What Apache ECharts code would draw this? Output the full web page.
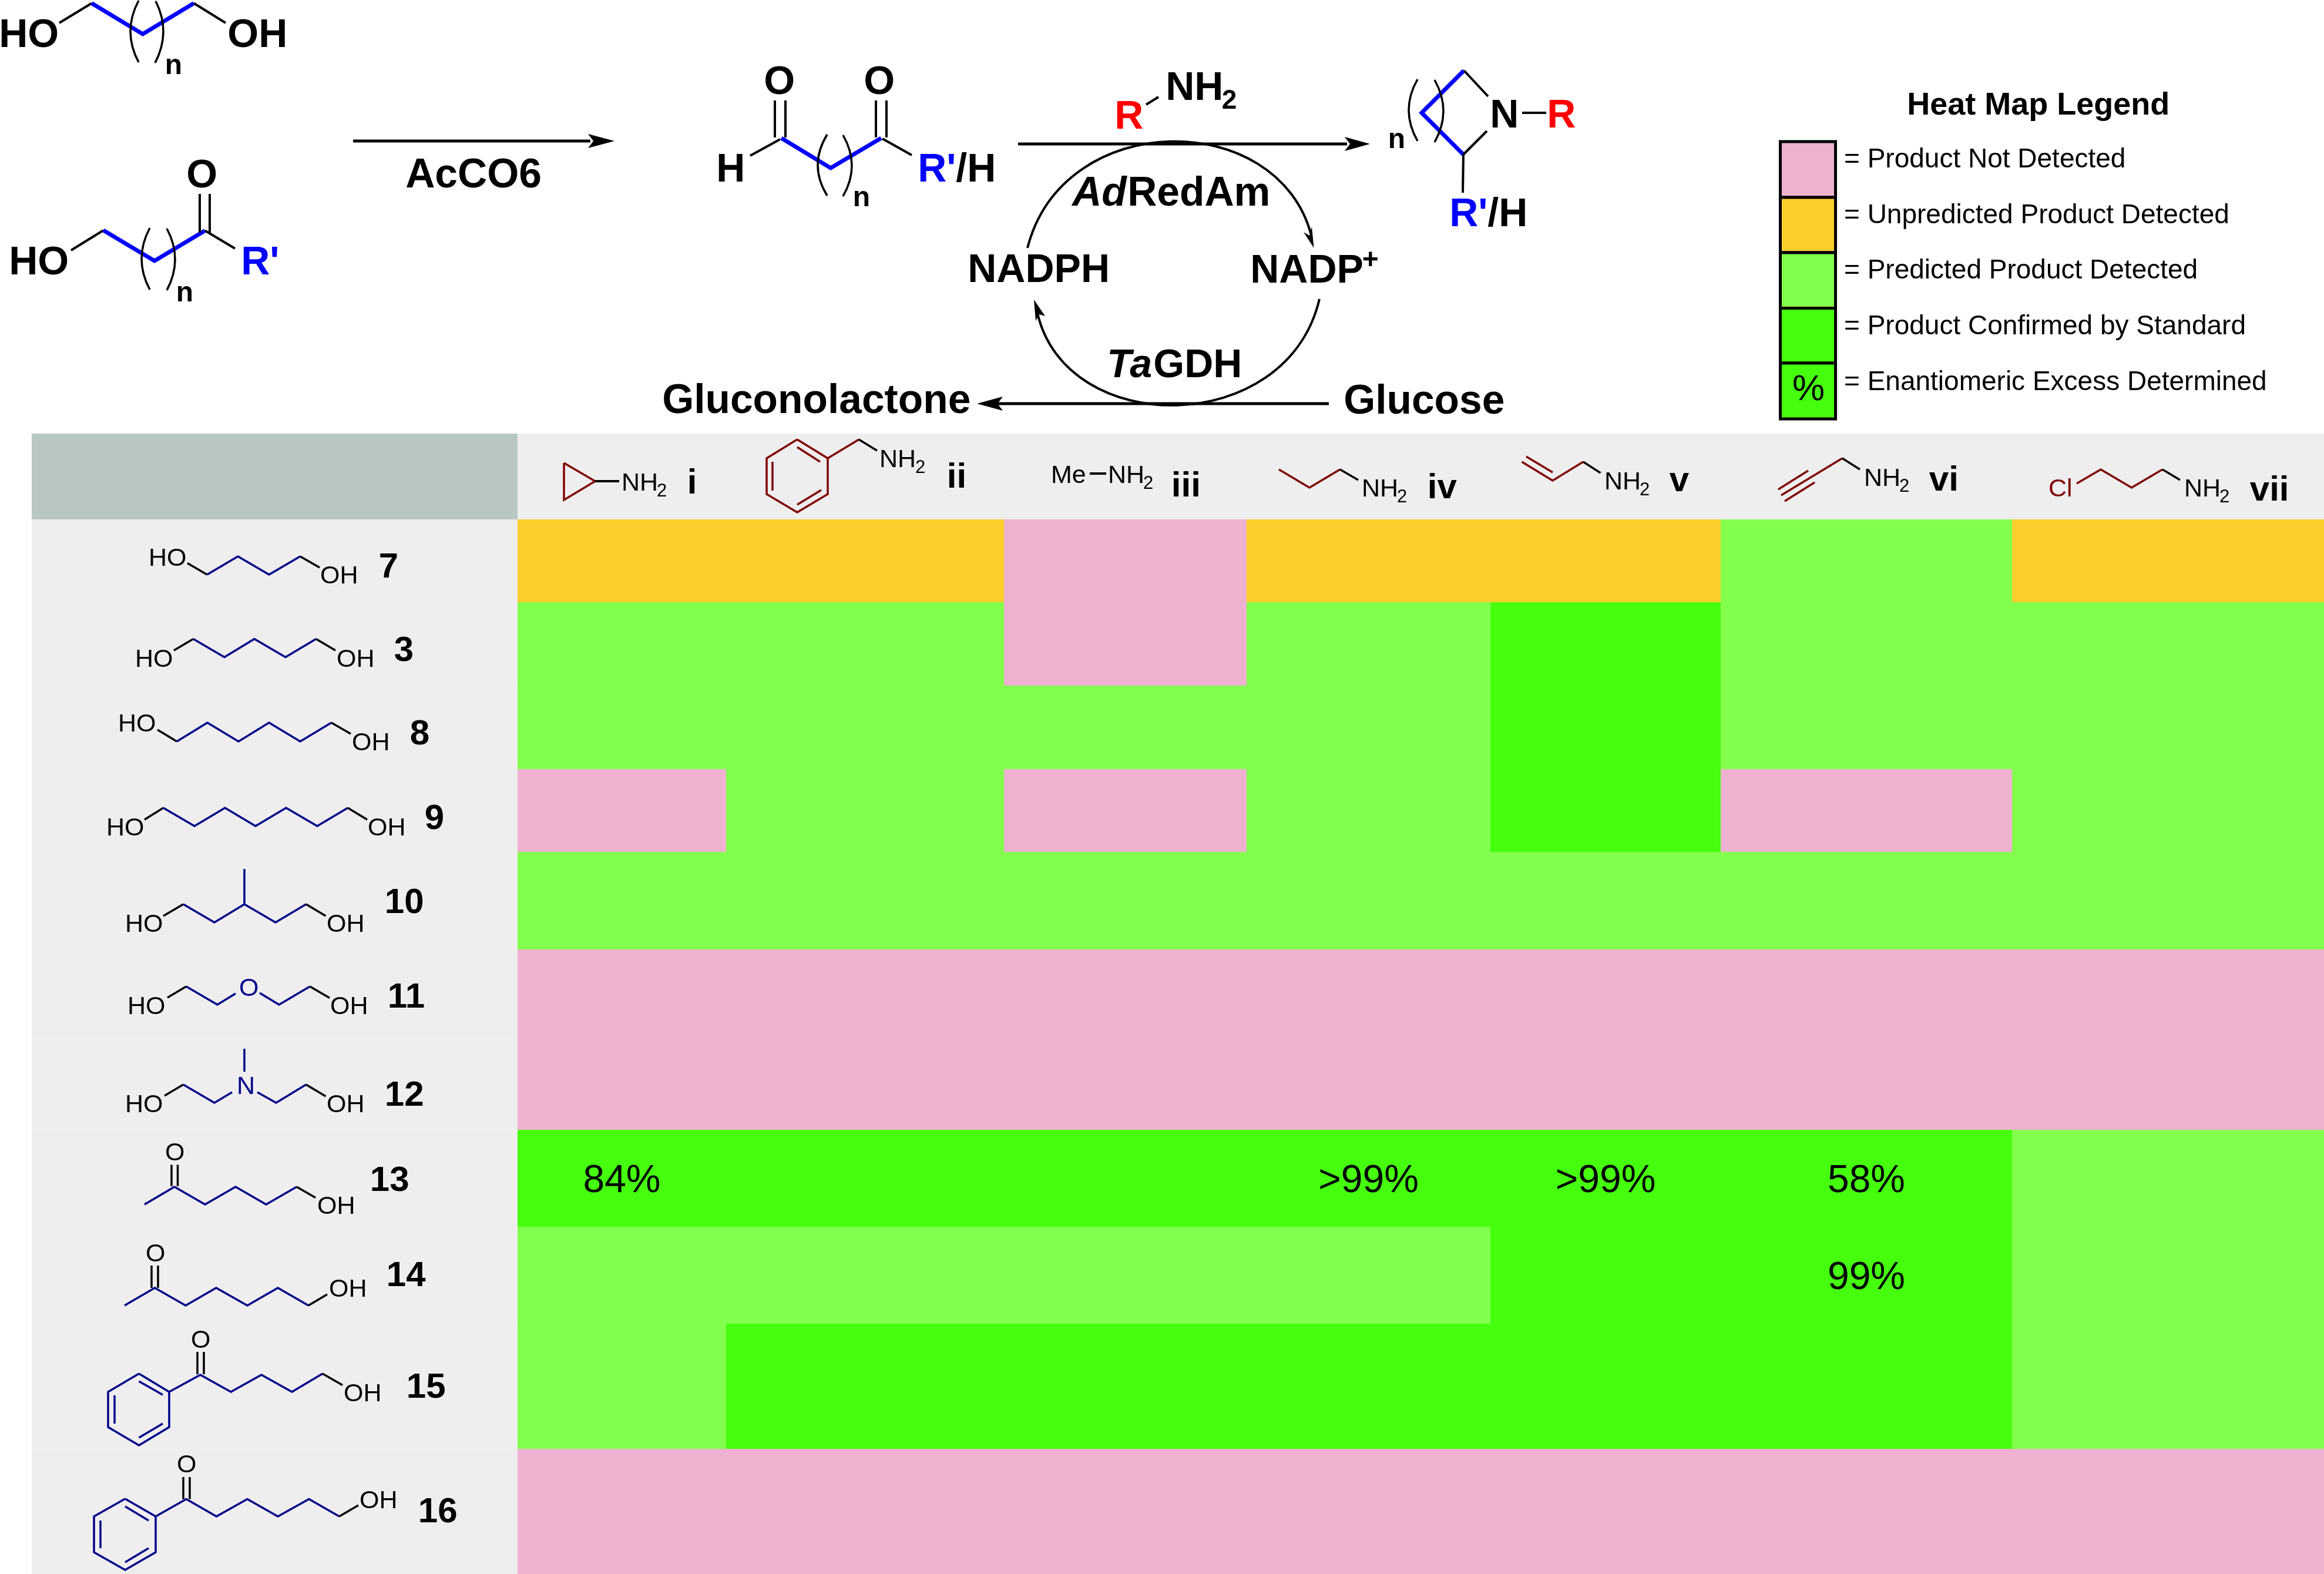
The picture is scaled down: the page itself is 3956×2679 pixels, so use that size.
<!DOCTYPE html>
<html>
<head>
<meta charset="utf-8">
<style>html,body{margin:0;padding:0;background:#fff}#c{width:3956px;height:2679px}</style>
<script src="https://cdn.jsdelivr.net/npm/echarts@6/dist/echarts.min.js"></script>
</head>
<body>
<div id="c"></div>
<script>
// ---------- DATA ----------
const amines = ['i', 'ii', 'iii', 'iv', 'v', 'vi', 'vii'];
const compounds = ['7', '3', '8', '9', '10', '11', '12', '13', '14', '15', '16'];
const statusNames = ['Product Not Detected', 'Unpredicted Product Detected', 'Predicted Product Detected', 'Product Confirmed by Standard'];
const eeLegendName = 'Enantiomeric Excess Determined';
// status index per amine i..vii
const row7  = [1, 1, 0, 1, 1, 2, 1];
const row3  = [2, 2, 0, 2, 3, 2, 2];
const row8  = [2, 2, 2, 2, 3, 2, 2];
const row9  = [0, 2, 0, 2, 3, 0, 2];
const row10 = [2, 2, 2, 2, 2, 2, 2];
const row11 = [0, 0, 0, 0, 0, 0, 0];
const row12 = [0, 0, 0, 0, 0, 0, 0];
const row13 = [3, 3, 3, 3, 3, 3, 2];
const row14 = [2, 2, 2, 2, 3, 3, 2];
const row15 = [2, 3, 3, 3, 3, 3, 2];
const row16 = [0, 0, 0, 0, 0, 0, 0];
const statusRows = [row7, row3, row8, row9, row10, row11, row12, row13, row14, row15, row16];
const eeRow13 = ['84%', '', '', '>99%', '>99%', '58%', ''];
const eeRow14 = ['', '', '', '', '', '99%', ''];

// ---------- LAYOUT ----------
const colEdges = [881, 1236, 1709, 2122, 2537, 2929, 3425, 3956];
const rowEdges = [884, 1025, 1167, 1309, 1450, 1616, 1769, 1923, 2088, 2253, 2466, 2679];
const statusColors = ['#eeb2d0', '#fecf2c', '#83ff4d', '#45ff0f'];
const eeByRow = { 7: eeRow13, 8: eeRow14 };
const FONT = '"Liberation Sans", Arial, sans-serif';
const BLUE = '#0000ff', RED = '#ff0000', NAVY = '#00008b', DARK = '#800000', BLK = '#000000';

const cells = [];
statusRows.forEach((row, r) => row.forEach((s, c) => {
  const ee = eeByRow[r] ? eeByRow[r][c] : '';
  cells.push([colEdges[c], rowEdges[r], colEdges[c + 1], rowEdges[r + 1], s, ee, amines[c], compounds[r]]);
}));

// ---------- drawing helpers for the annotation artwork ----------
const g = [];
const line = (pts, stroke, w) => g.push({ type: 'polyline', silent: true, z: 10, shape: { points: pts }, style: { stroke: stroke || BLK, lineWidth: w || 3.5, fill: null, lineJoin: 'miter', lineCap: 'butt' } });
const poly = (pts, fill) => g.push({ type: 'polygon', silent: true, z: 10, shape: { points: pts }, style: { fill: fill || BLK } });
const rect = (x, y, w, h, fill, stroke, lw) => g.push({ type: 'rect', silent: true, z: 1, shape: { x, y, width: w, height: h }, style: { fill, stroke: stroke || null, lineWidth: lw || 0 } });
const paren = (x1, y1, x2, y2, bx, w) => g.push({ type: 'bezierCurve', silent: true, z: 10, shape: { x1, y1, x2, y2, cpx1: 2 * bx - (x1 + x2) / 2, cpy1: (y1 + y2) / 2 }, style: { stroke: BLK, lineWidth: w || 3.5, fill: null } });
const curve = (x1, y1, cpx1, cpy1, cpx2, cpy2, x2, y2) => g.push({ type: 'bezierCurve', silent: true, z: 10, shape: { x1, y1, cpx1, cpy1, cpx2, cpy2, x2, y2 }, style: { stroke: BLK, lineWidth: 4, fill: null } });
const text = (s, x, cy, size, opt) => {
  opt = opt || {};
  g.push({ type: 'text', silent: true, z: 11, x: x - (opt.noBearing ? 0 : size * 0.07), y: cy + size * 0.075, style: {
    text: s, fill: opt.color || BLK, align: 'left', verticalAlign: 'middle',
    font: (opt.italic ? 'italic ' : '') + (opt.bold ? 'bold ' : '') + size + 'px ' + FONT } });
};
const bold = (s, x, cy, size, color, italic) => text(s, size === 60 ? x + 4 : x, cy, size === 66 ? 68 : size === 68 ? 69.5 : size, { bold: true, color, italic });
const atom = (s, x, cy, color) => text(s, x, cy, 43, { color });
const nh2 = (x, cy, subX, subCy) => { atom('NH', x, cy); text('2', subX, subCy, 31, { noBearing: true }); };
const hexagon = (xl, xm, xr, y0, y1, y2, y3) => line([[xm, y0], [xr, y1], [xr, y2], [xm, y3], [xl, y2], [xl, y1], [xm, y0]], NAVY, 3.5);

// ---------- table backgrounds ----------
rect(54, 738, 827, 146, '#b9c7c4');
rect(881, 738, 3075, 146, '#eeeeee');
rect(54, 884, 827, 1795, '#eeeeee');
rowEdges.slice(1, -1).forEach(y => g.push({ type: 'line', silent: true, z: 2, shape: { x1: 54, y1: y, x2: 881, y2: y }, style: { stroke: '#f2f2f2', lineWidth: 1 } }));

// ---------- reaction scheme: starting materials ----------
bold('HO', 3, 56, 66);
line([[101, 39], [156, 5.5]], BLK, 4); line([[156, 5.5], [243, 58], [330, 5.5]], BLUE, 7); line([[330, 5.5], [384, 39]], BLK, 4);
paren(236, 1, 236, 106, 222); paren(265, 2, 264, 107, 278);
bold('n', 284, 109, 48);
bold('OH', 392, 56, 66);

bold('HO', 20, 443, 66);
line([[121, 426], [176, 392]], BLK, 4); line([[176, 392], [263, 444], [349, 392.5]], BLUE, 7); line([[349, 392.5], [400, 423]], BLK, 4);
line([[340, 330], [340, 396]], BLK, 4); line([[357, 330], [357, 396]], BLK, 4);
bold('O', 322, 295, 66);
paren(255, 388, 255, 493, 241); paren(284, 389, 284, 494, 298);
bold('n', 303, 496, 48);
bold("R'", 415, 443, 66, BLUE);

line([[601, 240], [1005, 240]], BLK, 5);
poly([[1001, 228], [1046, 240], [1001, 252], [1010, 240]]);
bold('AcCO6', 695, 295, 68);

// ---------- dicarbonyl intermediate ----------
bold('H', 1224, 285, 66);
line([[1277, 265], [1328, 237]], BLK, 4); line([[1330, 235], [1414, 286], [1500, 235]], BLUE, 7); line([[1502, 236], [1552, 264]], BLK, 4);
line([[1319, 171], [1319, 234]], BLK, 4); line([[1337, 171], [1337, 234]], BLK, 4);
line([[1491, 171], [1491, 234]], BLK, 4); line([[1509, 171], [1509, 234]], BLK, 4);
bold('O', 1305, 136, 66); bold('O', 1475, 136, 66);
paren(1408, 229, 1408, 333, 1392); paren(1435, 230, 1435, 334, 1450);
bold('n', 1455, 334, 48);
bold("R'", 1567, 285, 66, BLUE);
bold('/H', 1632, 285, 66);

// ---------- amine + reductive amination arrow ----------
bold('R', 1902, 195, 66, RED);
line([[1951, 178], [1972, 165]], BLK, 4);
bold('NH', 1989, 146, 66);
bold('2', 2083, 169, 46);
line([[1733, 245], [2293, 245]], BLK, 5);
poly([[2289, 233], [2332, 245], [2289, 257], [2298, 245]]);

// ---------- cofactor cycle ----------
curve(1749, 422, 1810, 184, 2175, 184, 2232, 400);
poly([[2236.5, 422], [2219, 395], [2229, 401], [2233, 386]]);
curve(2246, 509, 2190, 746, 1815, 746, 1766, 533);
poly([[1760, 510], [1763, 546], [1769, 535], [1779, 538]]);
bold('Ad', 1830, 326, 68, BLK, true);
bold('RedAm', 1924, 326, 68);
bold('NADPH', 1652, 456, 66);
bold('NADP', 2133, 457, 66);
bold('+', 2322, 440, 48);
bold('Ta', 1889, 618, 66, BLK, true);
bold('GDH', 1968, 618, 66);
bold('Gluconolactone', 1132, 679, 68, BLK);
bold('Glucose', 2292, 680, 68);
line([[2262, 687], [1695, 687]], BLK, 5);
poly([[1663, 687], [1707, 675], [1698, 687], [1707, 699]]);

// ---------- product ----------
line([[2492, 120], [2420, 192], [2491, 263]], BLUE, 7);
line([[2492, 120], [2533, 164]], BLK, 4); line([[2491, 263], [2531, 223]], BLK, 4);
line([[2491, 263], [2490, 328]], BLK, 4);
paren(2413, 135, 2413, 240, 2398); paren(2442, 136, 2442, 242, 2457);
bold('n', 2366, 235, 48);
bold('N', 2541, 193, 66);
line([[2591, 192], [2632, 192]], BLK, 4);
bold('R', 2638, 193, 66, RED);
bold("R'", 2472, 361, 66, BLUE);
bold('/H', 2537, 361, 66);

// ---------- heat map legend ----------
bold('Heat Map Legend', 3250, 176, 54);
const legendEdges = [241, 336, 430, 524.5, 618, 713];
statusColors.concat(statusColors[3]).forEach((c, i) => {
  g.push({ type: 'rect', silent: true, z: 5, shape: { x: 3030.5, y: legendEdges[i], width: 94, height: legendEdges[i + 1] - legendEdges[i] }, style: { fill: c, stroke: BLK, lineWidth: 5 } });
});
text('%', 3051, 659, 62, { noBearing: true });
const legendCy = [269, 364, 458, 553, 648];
statusNames.concat(eeLegendName).forEach((n, i) => text('= ' + n, 3139, legendCy[i], 46, { noBearing: true }));

// ---------- column headers (amines i..vii) ----------
// i
line([[960, 788], [960, 851], [1013, 819], [960, 788]], DARK, 3.5);
line([[1013, 819], [1054, 819]], BLK, 4);
nh2(1061, 820, 1118, 834);
bold(amines[0], 1170, 819, 60);
// ii
line([[1357, 748], [1409, 780], [1409, 841], [1357, 872], [1305, 841], [1305, 780], [1357, 748]], DARK, 3.5);
line([[1357, 761], [1396, 786]], DARK, 3.5); line([[1315, 786], [1315, 835]], DARK, 3.5); line([[1357, 859], [1398, 834]], DARK, 3.5);
line([[1409, 780], [1462, 748]], DARK, 3.5); line([[1462, 748], [1493, 767]], BLK, 3.5);
nh2(1500, 780, 1558, 794);
bold(amines[1], 1612, 809, 60);
// iii
atom('Me', 1792, 807);
line([[1855, 806], [1883, 806]], BLK, 4);
nh2(1889, 807, 1946, 821);
bold(amines[2], 1994, 824, 60);
// iv
line([[2177, 799], [2229, 830], [2281, 799]], DARK, 3.5); line([[2281, 799], [2312, 817]], BLK, 3.5);
nh2(2321, 830, 2378, 844);
bold(amines[3], 2430, 827, 60);
// v
line([[2590.5, 786], [2643, 818], [2695, 786]], DARK, 3.5); line([[2598, 777], [2643, 804]], DARK, 3.5);
line([[2695, 786], [2724.5, 805]], BLK, 3.5);
nh2(2734, 818, 2791, 832);
bold(amines[4], 2842, 815, 60);
// vi
line([[3032, 843], [3136, 780]], DARK, 3.5); line([[3027, 833], [3078, 801]], DARK, 3.5); line([[3038, 853], [3089, 821]], DARK, 3.5);
line([[3136, 780], [3166, 799]], BLK, 3.5);
nh2(3176, 812, 3233, 826);
bold(amines[5], 3284, 814, 60);
// vii
text('Cl', 3490, 830, 43, { color: DARK });
line([[3535, 823], [3576, 799], [3628.5, 830], [3681, 799]], DARK, 3.5); line([[3681, 799], [3711, 817]], BLK, 3.5);
nh2(3721, 830, 3778, 844);
bold(amines[6], 3830, 831, 60);

// ---------- row headers (compounds) ----------
// 7
atom('HO', 256, 948); line([[319, 958.5], [352.5, 978]]);
line([[352.5, 978], [405, 947], [458, 978], [511, 947]], NAVY); line([[511, 947], [544, 966]]);
atom('OH', 548, 978); bold(compounds[0], 645, 962, 60);
// 3
atom('HO', 233, 1120); line([[296, 1107], [329, 1087.5]]);
line([[329, 1087.5], [382, 1118.5], [433, 1087.5], [486, 1118.5], [538, 1087.5]], NAVY); line([[538, 1087.5], [571, 1107]]);
atom('OH', 576, 1120); bold(compounds[1], 671, 1104, 60);
// 8
atom('HO', 204, 1230); line([[268, 1242], [301, 1262]]);
line([[301, 1262], [353, 1230], [406, 1262], [458, 1230], [511, 1262], [564, 1230]], NAVY); line([[564, 1230], [597, 1249]]);
atom('OH', 602, 1262); bold(compounds[2], 698, 1246, 60);
// 9
atom('HO', 184, 1407); line([[246, 1395], [278, 1375]]);
line([[278, 1375], [331, 1406], [383, 1375], [435, 1406], [487, 1375], [540, 1406], [592, 1375]], NAVY); line([[592, 1375], [625, 1395]]);
atom('OH', 629, 1407); bold(compounds[3], 723, 1390, 60);
// 10
atom('HO', 216, 1571); line([[278, 1559], [312, 1539]]);
line([[312, 1539], [365, 1570], [416, 1539], [469, 1570], [521, 1539]], NAVY); line([[416, 1539], [416, 1479]], NAVY); line([[521, 1539], [554.5, 1559]]);
atom('OH', 559, 1571); bold(compounds[4], 655, 1533, 60);
// 11
atom('HO', 220, 1711); line([[285, 1698], [317, 1679]]);
line([[317, 1679], [370, 1710], [401, 1691]], NAVY);
text('O', 407, 1680, 43, { color: NAVY, noBearing: true });
line([[442, 1690], [475, 1710], [527.5, 1679]], NAVY); line([[527.5, 1679], [561, 1698.5]]);
atom('OH', 565, 1711); bold(compounds[5], 660, 1694, 60);
// 12
atom('HO', 216, 1878); line([[280, 1865], [312, 1846]]);
line([[312, 1846], [365, 1877], [395, 1859]], NAVY);
text('N', 403, 1847, 43, { color: NAVY, noBearing: true });
line([[438, 1859], [470, 1877], [521, 1846]], NAVY); line([[416, 1785], [416, 1824]], NAVY); line([[521, 1846], [554.5, 1866]]);
atom('OH', 559, 1878); bold(compounds[6], 655, 1861, 60);
// 13
text('O', 281, 1960, 43, { noBearing: true });
line([[292, 1982.5], [292, 2019]]); line([[302.5, 1982.5], [302.5, 2019]]);
line([[246, 2050], [297, 2020], [349, 2050], [401, 2020], [453, 2050], [505, 2020]], NAVY); line([[505, 2020], [537, 2038.6]]);
atom('OH', 543, 2051); bold(compounds[7], 630, 2006, 60);
// 14
text('O', 248, 2132, 43, { noBearing: true });
line([[258, 2154], [258, 2192]]); line([[269, 2154], [269, 2192]]);
line([[212, 2222], [263.5, 2192], [316, 2222], [368, 2192], [421, 2222], [473, 2192], [525, 2222]], NAVY); line([[525, 2222], [557, 2203]]);
atom('OH', 563, 2192); bold(compounds[8], 658, 2168, 60);
// 15
text('O', 325, 2279, 43, { noBearing: true });
line([[336, 2301], [336, 2339]]); line([[347, 2301], [347, 2339]]);
hexagon(184, 236.5, 288, 2338, 2369, 2429, 2460);
line([[236.5, 2351], [277, 2374]], NAVY); line([[195, 2375], [195, 2423]], NAVY); line([[236.5, 2447], [277, 2423]], NAVY);
line([[288, 2369], [341, 2340], [393, 2369], [445, 2340], [497, 2369], [549, 2338]], NAVY); line([[549, 2338], [583, 2357.5]]);
atom('OH', 588, 2370); bold(compounds[9], 692, 2358, 60);
// 16
text('O', 301, 2491, 43, { noBearing: true });
line([[312, 2514], [312, 2551.5]]); line([[323, 2514], [323, 2551.5]]);
hexagon(160, 213, 265, 2551, 2581, 2642, 2672);
line([[213, 2564], [253, 2588]], NAVY); line([[171, 2588], [171, 2635]], NAVY); line([[213, 2659], [253, 2635]], NAVY);
line([[265, 2581], [317, 2551.5], [368.5, 2581], [421, 2551.5], [473, 2581], [526, 2551.5], [577.5, 2581]], NAVY); line([[577.5, 2581], [610, 2562]]);
atom('OH', 615, 2552); bold(compounds[10], 712, 2570, 60);

// ---------- chart ----------
const chart = echarts.init(document.getElementById('c'), null, { renderer: 'canvas' });
chart.setOption({
  animation: false,
  backgroundColor: '#ffffff',
  grid: { left: colEdges[0], top: rowEdges[0], right: 3956 - colEdges[7], bottom: 2679 - rowEdges[11] },
  xAxis: { type: 'value', min: colEdges[0], max: colEdges[7], show: false },
  yAxis: { type: 'value', min: rowEdges[0], max: rowEdges[11], inverse: true, show: false },
  graphic: { elements: g },
  series: [{
    type: 'custom',
    coordinateSystem: 'cartesian2d',
    encode: { x: [0, 2], y: [1, 3] },
    clip: false,
    data: cells,
    silent: true,
    renderItem: function (params, api) {
      const a = api.coord([api.value(0), api.value(1)]);
      const b = api.coord([api.value(2), api.value(3)]);
      const ee = cells[params.dataIndex][5];
      const children = [{
        type: 'rect',
        shape: { x: a[0], y: a[1], width: b[0] - a[0], height: b[1] - a[1] },
        style: { fill: statusColors[api.value(4)] }
      }];
      if (ee) children.push({
        type: 'text',
        z2: 5,
        style: { text: ee, x: (a[0] + b[0]) / 2, y: (a[1] + b[1]) / 2 + 5, align: 'center', verticalAlign: 'middle', fill: '#000', font: '66px ' + FONT }
      });
      return { type: 'group', children };
    }
  }]
});
</script>
</body>
</html>
